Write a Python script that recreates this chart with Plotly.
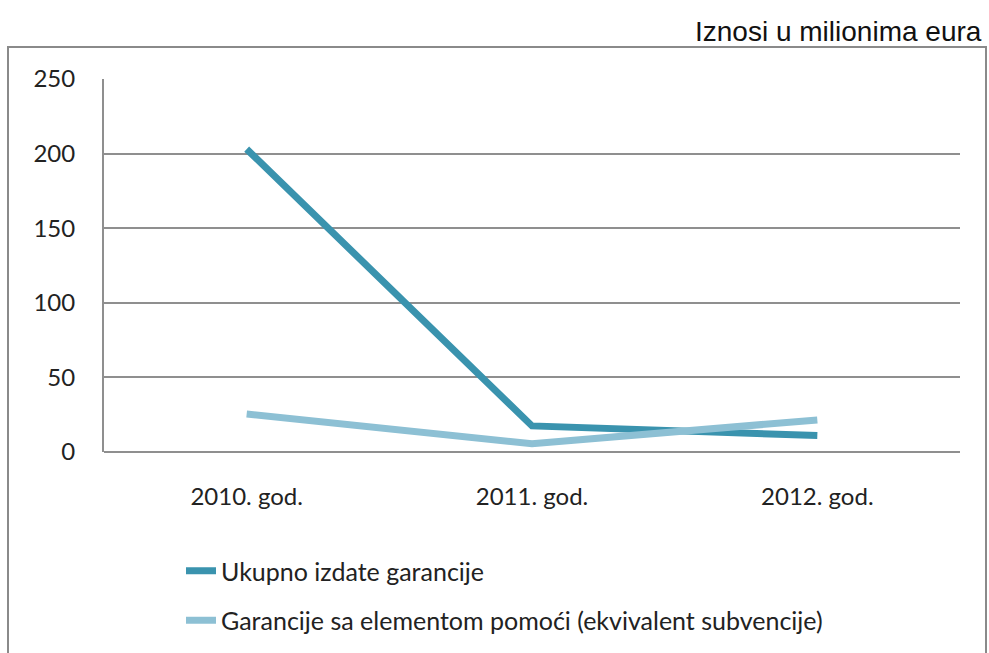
import plotly.graph_objects as go

categories = ["2010. god.", "2011. god.", "2012. god."]
ukupno = [203, 17.5, 11]
garancije = [25.5, 5.5, 21.5]
series_names = ["Ukupno izdate garancije",
                "Garancije sa elementom pomoći (ekvivalent subvencije)"]
y_ticks = [0, 50, 100, 150, 200, 250]

W, H = 989, 653
L, R, T, B = 104, 29, 79, 201
pw, ph = W - L - R, H - T - B

def px(x):
    return (x - L) / pw

def py(y):
    return (H - B - y) / ph

font_main = "Lato, Carlito, Calibri, sans-serif"

fig = go.Figure()
fig.add_trace(go.Scatter(x=categories, y=ukupno, mode="lines", name=series_names[0],
                         legendgroup="a",
                         line=dict(color="#3a93ae", width=7)))
fig.add_trace(go.Scatter(x=categories, y=garancije, mode="lines", name=series_names[1],
                         legendgroup="b",
                         line=dict(color="#8dc0d4", width=7)))

fig.update_layout(
    width=W, height=H,
    margin=dict(l=L, r=R, t=T, b=B, autoexpand=False),
    paper_bgcolor="white", plot_bgcolor="white",
    font=dict(family=font_main, size=24, color="#222222"),
    showlegend=True,
    legend=dict(x=px(181), y=py(548), xanchor="left", yanchor="top",
                orientation="v", bgcolor="rgba(0,0,0,0)",
                font=dict(family=font_main, size=25, color="#222222"),
                tracegroupgap=14, itemwidth=30),
    xaxis=dict(type="category", showgrid=False, showline=False, zeroline=False,
               ticks="", ticklabelstandoff=28, range=[-0.5, 2.5],
               tickfont=dict(family=font_main, size=24, color="#222222")),
    yaxis=dict(range=[0, 250], tickvals=y_ticks, showgrid=True,
               gridcolor="#8f8f8f", gridwidth=2, zeroline=True,
               zerolinecolor="#8f8f8f", zerolinewidth=2,
               showline=True, linecolor="#8f8f8f", linewidth=2,
               ticks="", ticklabelstandoff=22,
               tickfont=dict(family=font_main, size=24, color="#222222")),
    shapes=[dict(type="rect", xref="paper", yref="paper",
                 x0=px(8), x1=px(986), y0=py(670), y1=py(47),
                 line=dict(color="#8a8a8a", width=2), fillcolor="rgba(0,0,0,0)",
                 layer="below")],
    annotations=[dict(text="Iznosi u milionima eura", xref="paper", yref="paper",
                      x=px(984), y=py(32), xanchor="right", yanchor="middle",
                      showarrow=False,
                      font=dict(family="Liberation Sans, Arial, sans-serif",
                                size=28, color="#111111"))],
)

fig.write_html(
    "out.html",
    config={"displayModeBar": False},
    post_script="document.body.style.margin='0';document.body.style.overflow='hidden';",
)
